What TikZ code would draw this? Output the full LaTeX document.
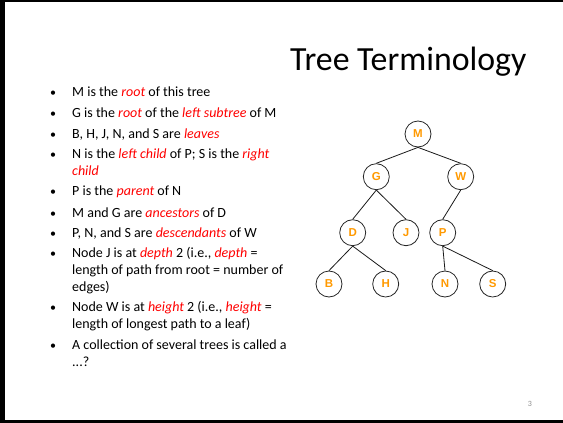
\documentclass[tikz,border=0pt]{standalone}
\usepackage{fontspec}
\setmainfont{Carlito}
\newfontfamily\arialfont{Liberation Sans}
\definecolor{nodeorange}{HTML}{FF9900}
\definecolor{hlred}{HTML}{FF0000}
\newcommand\hlt[1]{\textcolor{hlred}{\itshape #1}}
\tikzset{
  tnode/.style={circle, draw=black!85, line width=0.8pt, minimum size=26pt, inner sep=0pt,
    font=\arialfont\bfseries\fontsize{11.5}{12}\selectfont, text=nodeorange},
  edge/.style={draw=black!90, line width=0.8pt},
  itemtext/.style={anchor=base west, align=left, inner sep=0pt, font=\fontsize{14}{17}\selectfont},
  bul/.style={anchor=base, inner sep=0pt, font=\fontsize{12}{17}\selectfont}
}
\begin{document}
\begin{tikzpicture}[x=1pt,y=-1pt]
\useasboundingbox (0,0) rectangle (563,423);
% frame
\fill[black] (0,0) rectangle (5,423);
\fill[black] (0,0) rectangle (563,1.5);
\fill[black] (0,419.5) rectangle (563,423);
% title
\node[anchor=base west, inner sep=0pt, font=\fontsize{33.8}{34}\selectfont] (title) at (290,70.6) {Tree Terminology};
% bullets (multi-line nodes are placed by the baseline of their last line)
\node[bul] (b1) at (53,96.7) {\textbullet};
\node[itemtext] (t1) at (72,96.7) {M is the \hlt{root} of this tree};
\node[bul] (b2) at (53,117.5) {\textbullet};
\node[itemtext] (t2) at (72,117.5) {G is the \hlt{root} of the \hlt{left subtree} of M};
\node[bul] (b3) at (53,138.4) {\textbullet};
\node[itemtext] (t3) at (72,138.4) {B, H, J, N, and S are \hlt{leaves}};
\node[bul] (b4) at (53,158.3) {\textbullet};
\node[itemtext] (t4) at (72,175.3) {N is the \hlt{left child} of P; S is the \hlt{right}\\\hlt{child}};
\node[bul] (b5) at (53,195.9) {\textbullet};
\node[itemtext] (t5) at (72,195.9) {P is the \hlt{parent} of N};
\node[bul] (b6) at (53,217.1) {\textbullet};
\node[itemtext] (t6) at (72,217.1) {M and G are \hlt{ancestors} of D};
\node[bul] (b7) at (53,237) {\textbullet};
\node[itemtext] (t7) at (72,237) {P, N, and S are \hlt{descendants} of W};
\node[bul] (b8) at (53,257.2) {\textbullet};
\node[itemtext] (t8) at (72,291.2) {Node J is at \hlt{depth} 2 (i.e., \hlt{depth} =\\length of path from root = number of\\edges)};
\node[bul] (b9) at (53,311.7) {\textbullet};
\node[itemtext] (t9) at (72,328.7) {Node W is at \hlt{height} 2 (i.e., \hlt{height} =\\length of longest path to a leaf)};
\node[bul] (b10) at (53,349) {\textbullet};
\node[itemtext] (t10) at (72,366) {A collection of several trees is called a\\...?};
% tree
\node[tnode] (M) at (418,134) {M};
\node[tnode] (G) at (376.3,176.7) {G};
\node[tnode] (W) at (460.7,176.7) {W};
\node[tnode] (D) at (352.7,232.7) {D};
\node[tnode] (J) at (406,232.7) {J};
\node[tnode] (P) at (442.7,232.7) {P};
\node[tnode] (B) at (329,284) {B};
\node[tnode] (H) at (385.7,284) {H};
\node[tnode] (N) at (445,284) {N};
\node[tnode] (S) at (492.7,284) {S};
\draw[edge] (M.south) -- (G.north);
\draw[edge] (M.south) -- (W.north);
\draw[edge] (G.south) -- (D.north);
\draw[edge] (G.south) -- (J.north);
\draw[edge] (W.south) -- (P.north);
\draw[edge] (D.south) -- (B.north);
\draw[edge] (D.south) -- (H.north);
\draw[edge] (P.south) -- (N.north);
\draw[edge] (P.south) -- (S.north);
% page number
\node[text=black!45, inner sep=0pt, font=\fontsize{8}{8}\selectfont] (pg) at (530,404) {3};
\end{tikzpicture}
\end{document}
